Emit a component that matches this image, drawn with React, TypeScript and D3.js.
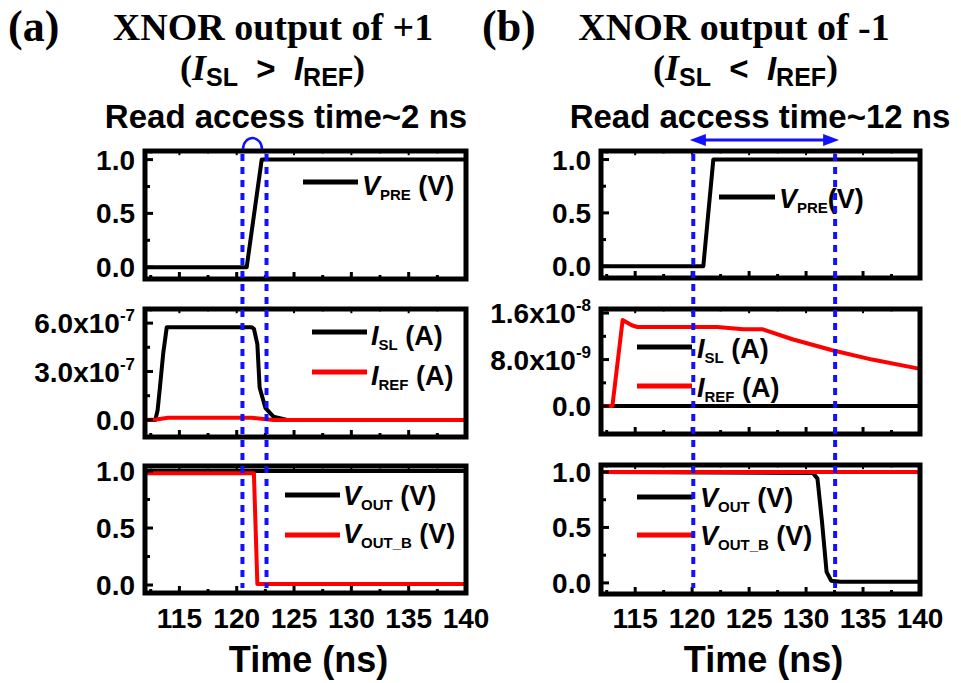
import React, { useRef, useEffect } from 'react';
import * as d3 from 'd3';

const WIDTH = 961;
const HEIGHT = 683;
const BLUE = '#1111ff';
const RED = '#ff0000';
const SANS = '"Liberation Sans", Arial, sans-serif';
const SERIF = '"Liberation Serif", "Times New Roman", serif';

// shared time axis (ns)
const X_DOMAIN: [number, number] = [112, 140];
const X_MAJOR = [115, 120, 125, 130, 135, 140];
const X_MINOR = [112.5, 117.5, 122.5, 127.5, 132.5, 137.5];
const X_LABELS = ['115', '120', '125', '130', '135', '140'];

// voltage panels
const V_MAJOR = [0, 0.5, 1];
const V_MINOR = [0.25, 0.75];
const V_LABELS = ['0.0', '0.5', '1.0'];

// current panels
const IA_MAJOR = [0, 3e-7, 6e-7];
const IA_MINOR = [1.5e-7, 4.5e-7];
const IA_LABELS = ['0.0', '3.0x10', '6.0x10'];
const IA_EXP = ['', '-7', '-7'];
const IB_MAJOR = [0, 8e-9, 1.6e-8];
const IB_MINOR = [4e-9, 1.2e-8];
const IB_LABELS = ['0.0', '8.0x10', '1.6x10'];
const IB_EXP = ['', '-9', '-8'];

// (a) XNOR output of +1
const tPreA = [112, 120.87, 122.18, 140];
const vPreA = [0, 0, 1, 1];
const tIslA = [112, 112.9, 113.1, 113.3, 113.6, 113.9, 121.3, 121.5, 121.8, 122.0, 122.5, 123.2, 124.4, 140];
const iSlA = [0, 0, 0.6e-7, 2.0e-7, 4.2e-7, 5.75e-7, 5.75e-7, 5.65e-7, 4.7e-7, 2.0e-7, 0.75e-7, 0.2e-7, 0, 0];
const tIrefA = [112, 113, 114, 121.3, 123.2, 140];
const iRefA = [0, 0.03e-7, 0.13e-7, 0.13e-7, 0, 0];
const tOutA = [112, 140];
const vOutA = [1, 1];
const tOutBA = [112, 121.5, 121.8, 140];
const vOutBA = [0.98, 0.98, 0.01, 0.01];
const DOTTED_A = [120.5, 122.6];

// (b) XNOR output of -1
const tPreB = [112, 120.98, 121.86, 140];
const vPreB = [0, 0, 1, 1];
const tIslB = [112, 140];
const iSlB = [0, 0];
const tIrefB = [112, 113.0, 113.9, 114.7, 115.2, 122.2, 124.5, 126.2, 128.8, 132.3, 135.8, 140];
const iRefB = [0, 0, 1.48e-8, 1.39e-8, 1.36e-8, 1.36e-8, 1.32e-8, 1.32e-8, 1.15e-8, 0.96e-8, 0.8e-8, 0.64e-8];
const tOutB = [112, 130.6, 131.0, 131.4, 131.8, 132.2, 133, 140];
const vOutB = [1.0, 0.99, 0.94, 0.55, 0.1, 0.02, 0.01, 0.01];
const tOutBB = [112, 140];
const vOutBB = [1, 1];
const DOTTED_B = [120.1, 132.55];

const COLS = [
  { x0: 145, x1: 466 },
  { x0: 601, x1: 920 },
];

const PANELS = [
  {
    col: 0, y0: 151, y1: 279, domain: [-0.11, 1.08], major: V_MAJOR, minor: V_MINOR, labels: V_LABELS, exps: null, xLabels: false,
    series: [{ t: tPreA, v: vPreA, color: '#000' }],
    legend: [{ sym: 'V', sub: 'PRE', unit: '\u00a0(V)', color: '#000', lx0: 303, lx1: 358, ly: 182, tx: 362, ty: 195 }],
  },
  {
    col: 0, y0: 309, y1: 437, domain: [-1.06e-7, 6.875e-7], major: IA_MAJOR, minor: IA_MINOR, labels: IA_LABELS, exps: IA_EXP, xLabels: false,
    series: [{ t: tIslA, v: iSlA, color: '#000' }, { t: tIrefA, v: iRefA, color: RED }],
    legend: [
      { sym: 'I', sub: 'SL', unit: '\u00a0(A)', color: '#000', lx0: 312, lx1: 367, ly: 332, tx: 371, ty: 345 },
      { sym: 'I', sub: 'REF', unit: '\u00a0(A)', color: RED, lx0: 312, lx1: 367, ly: 372, tx: 371, ty: 385 },
    ],
  },
  {
    col: 0, y0: 466, y1: 593, domain: [-0.07, 1.044], major: V_MAJOR, minor: V_MINOR, labels: V_LABELS, exps: null, xLabels: true,
    series: [{ t: tOutA, v: vOutA, color: '#000' }, { t: tOutBA, v: vOutBA, color: RED }],
    legend: [
      { sym: 'V', sub: 'OUT', unit: '\u00a0(V)', color: '#000', lx0: 285, lx1: 340, ly: 495, tx: 343, ty: 505 },
      { sym: 'V', sub: 'OUT_B', unit: '\u00a0(V)', color: RED, lx0: 285, lx1: 340, ly: 535, tx: 343, ty: 543 },
    ],
  },
  {
    col: 1, y0: 151, y1: 278, domain: [-0.11, 1.08], major: V_MAJOR, minor: V_MINOR, labels: V_LABELS, exps: null, xLabels: false,
    series: [{ t: tPreB, v: vPreB, color: '#000' }],
    legend: [{ sym: 'V', sub: 'PRE', unit: '(V)', color: '#000', lx0: 719, lx1: 775, ly: 197, tx: 779, ty: 208 }],
  },
  {
    col: 1, y0: 309, y1: 434, domain: [-4.8e-9, 1.67e-8], major: IB_MAJOR, minor: IB_MINOR, labels: IB_LABELS, exps: IB_EXP, xLabels: false,
    series: [{ t: tIslB, v: iSlB, color: '#000' }, { t: tIrefB, v: iRefB, color: RED }],
    legend: [
      { sym: 'I', sub: 'SL', unit: '\u00a0(A)', color: '#000', lx0: 637, lx1: 692, ly: 347, tx: 697, ty: 358 },
      { sym: 'I', sub: 'REF', unit: '\u00a0(A)', color: RED, lx0: 637, lx1: 692, ly: 386, tx: 697, ty: 397 },
    ],
  },
  {
    col: 1, y0: 465, y1: 594, domain: [-0.1, 1.063], major: V_MAJOR, minor: V_MINOR, labels: V_LABELS, exps: null, xLabels: true,
    series: [{ t: tOutB, v: vOutB, color: '#000' }, { t: tOutBB, v: vOutBB, color: RED }],
    legend: [
      { sym: 'V', sub: 'OUT', unit: '\u00a0(V)', color: '#000', lx0: 637, lx1: 693, ly: 497, tx: 700, ty: 507 },
      { sym: 'V', sub: 'OUT_B', unit: '\u00a0(V)', color: RED, lx0: 637, lx1: 693, ly: 535, tx: 700, ty: 545 },
    ],
  },
];

const TITLES = [
  { tag: '(a)', tagX: 8, line1: 'XNOR output of +1', cx: 273, op: '>', startX: 180, line3: 'Read access time~2 ns', cx3: 286 },
  { tag: '(b)', tagX: 482, line1: 'XNOR output of -1', cx: 734, op: '<', startX: 653, line3: 'Read access time~12 ns', cx3: 760 },
];

export default function App() {
  const svgRef = useRef<SVGSVGElement>(null);

  useEffect(() => {
    const svg = d3.select(svgRef.current);
    svg.selectAll('*').remove();
    svg.append('rect').attr('width', WIDTH).attr('height', HEIGHT).attr('fill', '#fff');

    const xScales = COLS.map(c => d3.scaleLinear().domain(X_DOMAIN).range([c.x0, c.x1]));

    PANELS.forEach(p => {
      const x = xScales[p.col];
      const { x0, x1 } = COLS[p.col];
      const y = d3.scaleLinear().domain(p.domain).range([p.y1, p.y0]);
      const g = svg.append('g');

      const lineGen = d3.line<[number, number]>().x(d => x(d[0])).y(d => y(d[1]));
      p.series.forEach(s => {
        g.append('path')
          .datum(d3.zip(s.t, s.v) as [number, number][])
          .attr('d', lineGen)
          .attr('fill', 'none')
          .attr('stroke', s.color)
          .attr('stroke-width', 4)
          .attr('stroke-linejoin', 'round');
      });

      // frame
      g.append('rect')
        .attr('x', x0).attr('y', p.y0).attr('width', x1 - x0).attr('height', p.y1 - p.y0)
        .attr('fill', 'none').attr('stroke', '#000').attr('stroke-width', 5);

      // x ticks (bottom inward, top inward)
      const xt = (vals: number[], len: number) => {
        vals.forEach(v => {
          g.append('line').attr('x1', x(v)).attr('x2', x(v)).attr('y1', p.y1).attr('y2', p.y1 - len)
            .attr('stroke', '#000').attr('stroke-width', 3);
          g.append('line').attr('x1', x(v)).attr('x2', x(v)).attr('y1', p.y0).attr('y2', p.y0 + len * 0.6)
            .attr('stroke', '#000').attr('stroke-width', 2);
        });
      };
      xt(X_MAJOR.filter(v => v < 140), 7);
      xt(X_MINOR, 4);

      // y ticks
      p.major.forEach(v => {
        g.append('line').attr('x1', x0).attr('x2', x0 + 8).attr('y1', y(v)).attr('y2', y(v))
          .attr('stroke', '#000').attr('stroke-width', 3);
      });
      p.minor.forEach(v => {
        g.append('line').attr('x1', x0).attr('x2', x0 + 5).attr('y1', y(v)).attr('y2', y(v))
          .attr('stroke', '#000').attr('stroke-width', 3);
      });

      // y tick labels
      p.major.forEach((v, i) => {
        const t = g.append('text')
          .attr('x', x0 - 10).attr('y', y(v) + 10)
          .attr('text-anchor', 'end')
          .attr('font-family', SANS).attr('font-weight', 'bold').attr('font-size', 28)
          .attr('fill', '#000');
        t.append('tspan').text(p.labels[i]);
        if (p.exps && p.exps[i]) {
          t.append('tspan').attr('font-size', 17).attr('dy', -12).text(p.exps[i]);
        }
      });

      if (p.xLabels) {
        X_MAJOR.forEach((v, i) => {
          g.append('text')
            .attr('x', x(v)).attr('y', 628)
            .attr('text-anchor', 'middle')
            .attr('font-family', SANS).attr('font-weight', 'bold').attr('font-size', 28)
            .text(X_LABELS[i]);
        });
        g.append('text')
          .attr('x', (x0 + x1) / 2 + 3).attr('y', 672)
          .attr('text-anchor', 'middle')
          .attr('font-family', SANS).attr('font-weight', 'bold').attr('font-size', 36)
          .text('Time (ns)');
      }

      // legend
      p.legend.forEach(l => {
        g.append('line').attr('x1', l.lx0).attr('x2', l.lx1).attr('y1', l.ly).attr('y2', l.ly)
          .attr('stroke', l.color).attr('stroke-width', 5);
        const t = g.append('text')
          .attr('x', l.tx).attr('y', l.ty)
          .attr('font-family', SANS).attr('font-weight', 'bold').attr('font-size', 27);
        t.append('tspan').attr('font-style', 'italic').text(l.sym);
        t.append('tspan').attr('font-size', 15).attr('dy', 5).text(l.sub);
        t.append('tspan').attr('dy', -5).text(l.unit);
      });
    });

    // read access markers
    const dotted = [DOTTED_A, DOTTED_B];
    dotted.forEach((vals, c) => {
      vals.forEach(v => {
        svg.append('line')
          .attr('x1', xScales[c](v)).attr('x2', xScales[c](v))
          .attr('y1', 154).attr('y2', 588)
          .attr('stroke', BLUE).attr('stroke-width', 4).attr('stroke-dasharray', '7,6');
      });
    });

    // small arc over (a)
    const ax0 = xScales[0](120.55);
    const ax1 = xScales[0](122.2);
    svg.append('path')
      .attr('d', `M${ax0},149 A${(ax1 - ax0) / 2},11 0 0 1 ${ax1},149`)
      .attr('fill', 'none').attr('stroke', BLUE).attr('stroke-width', 2.5);

    // double arrow over (b)
    const bx0 = xScales[1](119.8);
    const bx1 = xScales[1](132.9);
    const ay = 140;
    svg.append('line').attr('x1', bx0 + 10).attr('x2', bx1 - 10).attr('y1', ay).attr('y2', ay)
      .attr('stroke', BLUE).attr('stroke-width', 3);
    svg.append('path').attr('d', `M${bx0},${ay} L${bx0 + 16},${ay - 6} L${bx0 + 16},${ay + 6} Z`).attr('fill', BLUE);
    svg.append('path').attr('d', `M${bx1},${ay} L${bx1 - 16},${ay - 6} L${bx1 - 16},${ay + 6} Z`).attr('fill', BLUE);

    // titles
    TITLES.forEach(tt => {
      svg.append('text').attr('x', tt.tagX).attr('y', 41)
        .attr('font-family', SERIF).attr('font-weight', 'bold').attr('font-size', 44)
        .text(tt.tag);
      svg.append('text').attr('x', tt.cx).attr('y', 40).attr('text-anchor', 'middle')
        .attr('font-family', SERIF).attr('font-weight', 'bold').attr('font-size', 38)
        .text(tt.line1);

      const l2 = svg.append('text').attr('x', tt.startX).attr('y', 80).attr('font-weight', 'bold');
      l2.append('tspan').attr('font-family', SERIF).attr('font-size', 36).text('(');
      l2.append('tspan').attr('font-family', SERIF).attr('font-style', 'italic').attr('font-size', 36).text('I');
      l2.append('tspan').attr('dy', 6).attr('font-family', SANS).attr('font-size', 25).text('SL');
      l2.append('tspan').attr('dy', -6).attr('font-family', SANS).attr('font-size', 33)
        .text(`\u00a0\u00a0${tt.op}\u00a0\u00a0`);
      l2.append('tspan').attr('font-family', SANS).attr('font-style', 'italic').attr('font-size', 33).text('I');
      l2.append('tspan').attr('dy', 6).attr('font-family', SANS).attr('font-size', 25).text('REF');
      l2.append('tspan').attr('dy', -6).attr('font-family', SERIF).attr('font-size', 36).text(')');

      svg.append('text').attr('x', tt.cx3).attr('y', 128).attr('text-anchor', 'middle')
        .attr('font-family', SANS).attr('font-weight', 'bold').attr('font-size', 33)
        .text(tt.line3);
    });
  }, []);

  return (
    <svg
      ref={svgRef}
      width={WIDTH}
      height={HEIGHT}
      style={{ position: 'absolute', left: 0, top: 0, display: 'block' }}
    />
  );
}
